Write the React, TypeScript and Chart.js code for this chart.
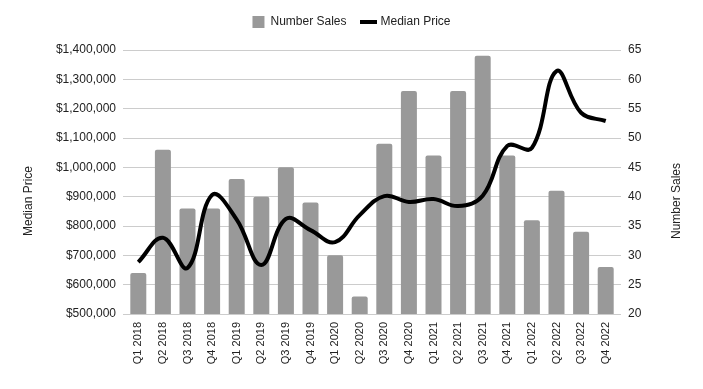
import React, { useEffect, useRef } from "react";
import { Chart, registerables } from "chart.js";

Chart.register(...registerables);

const categories = [
  "Q1 2018", "Q2 2018", "Q3 2018", "Q4 2018",
  "Q1 2019", "Q2 2019", "Q3 2019", "Q4 2019",
  "Q1 2020", "Q2 2020", "Q3 2020", "Q4 2020",
  "Q1 2021", "Q2 2021", "Q3 2021", "Q4 2021",
  "Q1 2022", "Q2 2022", "Q3 2022", "Q4 2022",
];

const numberSales = [27, 48, 38, 38, 43, 40, 45, 39, 30, 23, 49, 58, 47, 58, 64, 47, 36, 41, 34, 28];

const medianPrice = [
  677000, 760000, 657000, 906000, 822000, 667000, 824000, 786000, 745000, 837000,
  902000, 882000, 892000, 868000, 903000, 1073000, 1066000, 1328000, 1186000, 1158000,
];

const priceAxis = { min: 500000, max: 1400000, step: 100000 };
const salesAxis = { min: 20, max: 65, step: 5 };

const seriesNames = { sales: "Number Sales", price: "Median Price" };
const axisTitles = { left: "Median Price", right: "Number Sales" };

const FONT = '"Liberation Sans", Arial, sans-serif';
const TEXT = "#222222";
const GRID = "#cccccc";
const BAR = "#999999";

const legendHeightPlugin = {
  id: "legendHeight",
  beforeLayout(chart: any) {
    const lg = chart.legend;
    if (lg && !lg.__patched) {
      const orig = lg.fit;
      lg.fit = function () {
        orig.call(this);
        this.height = 50;
      };
      lg.__patched = true;
    }
  },
};

const sideTitlesPlugin = {
  id: "sideTitles",
  afterDraw(chart: any) {
    const { ctx, chartArea } = chart;
    const cy = (chartArea.top + chartArea.bottom) / 2 + 19;
    ctx.save();
    ctx.font = `12px ${FONT}`;
    ctx.fillStyle = TEXT;
    ctx.textAlign = "center";
    ctx.textBaseline = "middle";
    const draw = (text: string, x: number) => {
      ctx.save();
      ctx.translate(x, cy);
      ctx.rotate(-Math.PI / 2);
      ctx.fillText(text, 0, 0);
      ctx.restore();
    };
    draw(axisTitles.left, 29);
    draw(axisTitles.right, 677);
    ctx.restore();
  },
};

export default function App() {
  const ref = useRef<HTMLCanvasElement | null>(null);

  useEffect(() => {
    document.body.style.margin = "0";
    if (!ref.current) return;
    const chart = new Chart(ref.current, {
      type: "bar",
      data: {
        labels: categories,
        datasets: [
          {
            type: "bar",
            label: seriesNames.sales,
            data: numberSales,
            backgroundColor: BAR,
            borderWidth: 0,
            borderRadius: 2,
            borderSkipped: "bottom",
            yAxisID: "ySales",
            categoryPercentage: 1,
            barPercentage: 0.65,
            order: 1,
          } as any,
          {
            type: "line",
            label: seriesNames.price,
            data: medianPrice,
            borderColor: "#000000",
            backgroundColor: "#000000",
            borderWidth: 4,
            tension: 0.4,
            pointRadius: 0,
            pointHoverRadius: 0,
            yAxisID: "yPrice",
            order: 0,
          } as any,
        ],
      },
      options: {
        responsive: false,
        animation: false,
        layout: { padding: 0 },
        plugins: {
          tooltip: { enabled: false },
          legend: {
            position: "top",
            labels: {
              usePointStyle: true,
              padding: 16,
              color: TEXT,
              font: { family: FONT, size: 12 },
              sort: (a: any, b: any) => a.datasetIndex - b.datasetIndex,
              generateLabels: (chart: any) =>
                chart.data.datasets.map((ds: any, i: number) => ({
                  text: ds.label,
                  fillStyle: ds.type === "line" ? ds.borderColor : ds.backgroundColor,
                  strokeStyle: ds.type === "line" ? ds.borderColor : ds.backgroundColor,
                  lineWidth: ds.type === "line" ? 4 : 0,
                  pointStyle: ds.type === "line" ? "line" : "rect",
                  fontColor: TEXT,
                  hidden: false,
                  datasetIndex: i,
                })),
            },
          },
        },
        scales: {
          x: {
            grid: { display: false, drawTicks: false },
            border: { display: false },
            ticks: {
              autoSkip: false,
              maxRotation: 90,
              minRotation: 90,
              padding: 8,
              color: TEXT,
              font: { family: FONT, size: 11 },
            },
            afterFit: (s: any) => {
              s.height = 75;
            },
          },
          yPrice: {
            type: "linear",
            position: "left",
            min: priceAxis.min,
            max: priceAxis.max,
            grid: { color: GRID, tickLength: 3, lineWidth: 1 },
            border: { display: false },
            ticks: {
              stepSize: priceAxis.step,
              padding: 7,
              color: TEXT,
              font: { family: FONT, size: 12 },
              callback: (v: any) => "$" + Number(v).toLocaleString("en-US"),
            },
            afterFit: (s: any) => {
              s.width = 126;
            },
          },
          ySales: {
            type: "linear",
            position: "right",
            min: salesAxis.min,
            max: salesAxis.max,
            grid: { color: GRID, drawOnChartArea: false, tickLength: 3 },
            border: { display: false },
            ticks: {
              stepSize: salesAxis.step,
              padding: 7,
              color: TEXT,
              font: { family: FONT, size: 12 },
            },
            afterFit: (s: any) => {
              s.width = 85;
            },
          },
        },
      },
      plugins: [legendHeightPlugin, sideTitlesPlugin],
    });
    return () => chart.destroy();
  }, []);

  return (
    <div style={{ width: 703, height: 389 }}>
      <canvas ref={ref} width={703} height={389} style={{ display: "block" }} />
    </div>
  );
}
